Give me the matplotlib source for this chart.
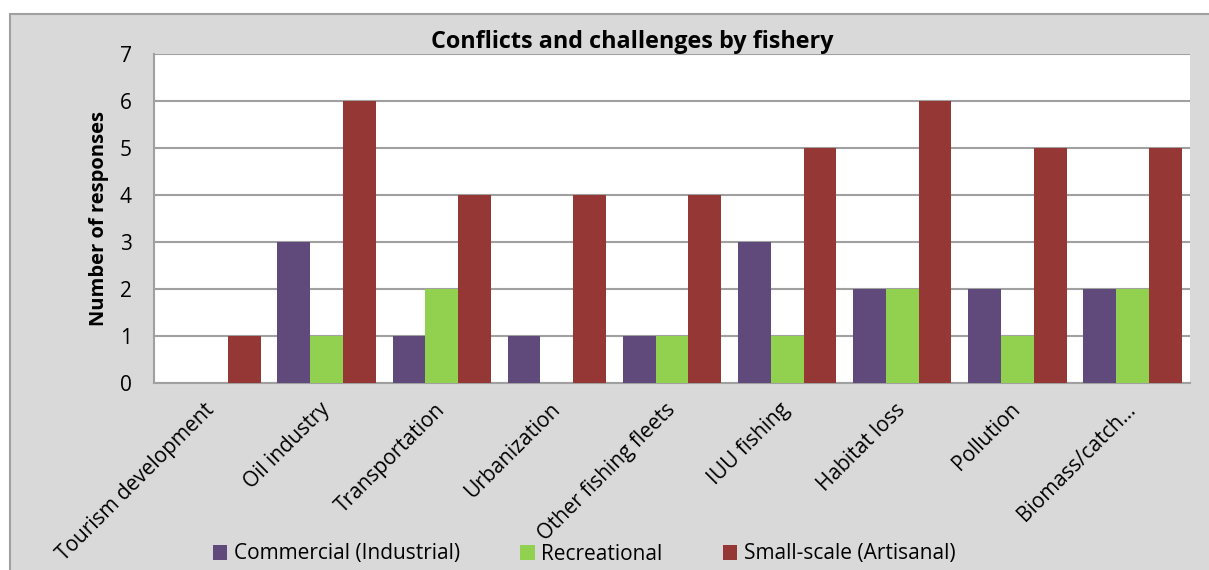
import matplotlib.pyplot as plt
from matplotlib.patches import Rectangle, Patch
import numpy as np

categorias = ['Tourism development', 'Oil industry', 'Transportation', 'Urbanization',
              'Other fishing fleets', 'IUU fishing', 'Habitat loss', 'Pollution',
              'Biomass/catch…']
commercial = [0, 3, 1, 1, 1, 3, 2, 2, 2]
recreational = [0, 1, 2, 0, 1, 1, 2, 1, 2]
small_scale = [1, 6, 4, 4, 4, 5, 6, 5, 5]
series_names = ['Commercial (Industrial)', 'Recreational', 'Small-scale (Artisanal)']
cores = ['#604A7B', '#92D050', '#953735']

plt.rcParams['font.family'] = ['Open Sans', 'DejaVu Sans']

fig = plt.figure(figsize=(12.09, 5.70), dpi=100)
fig.patch.set_facecolor('white')

# fundo cinza do "chart area" estilo Excel
fig.patches.append(Rectangle((10 / 1209, -0.05), 1.2, 1 - 14 / 570 + 0.05,
                             transform=fig.transFigure, facecolor='#D9D9D9',
                             edgecolor='#A0A0A0', linewidth=1.5, zorder=-5))

ax = fig.add_axes([154 / 1209, 1 - 383 / 570, (1190 - 154) / 1209, (383 - 54) / 570])
ax.set_facecolor('white')

x = np.arange(len(categorias))
w = 0.285
for i, (vals, cor, nome) in enumerate(zip([commercial, recreational, small_scale], cores, series_names)):
    ax.bar(x + (i - 1) * w, vals, width=w, color=cor, label=nome, zorder=3)

ax.set_xlim(-0.5, len(categorias) - 0.5)
ax.set_ylim(0, 7)
ax.set_yticks(range(0, 8))
ax.yaxis.grid(True, color='#A0A0A0', linewidth=1.5, zorder=0)
ax.set_axisbelow(True)
for s in ['top', 'right']:
    ax.spines[s].set_visible(False)
for s in ['left', 'bottom']:
    ax.spines[s].set_color('#A0A0A0')
    ax.spines[s].set_linewidth(1.5)
ax.tick_params(axis='y', length=0, pad=16, labelsize=15)
ax.tick_params(axis='x', length=0, pad=17, labelsize=15)
ax.set_xticks(x)
ax.set_xticklabels(categorias, rotation=45, ha='right', va='center', rotation_mode='anchor')

ax.set_ylabel('Number of responses', fontsize=14.5, fontweight='bold', labelpad=8)
fig.text(632 / 1209, 1 - 42 / 570, 'Conflicts and challenges by fishery',
         ha='center', va='center', fontsize=16.8, fontweight='bold')

handles = [Patch(facecolor=c) for c in cores]
fig.legend(handles, series_names, loc='center', bbox_to_anchor=(584 / 1209, 1 - 554 / 570),
           ncol=3, frameon=False, fontsize=15, handlelength=0.7, handleheight=0.7,
           handletextpad=0.3, columnspacing=2.9)

plt.savefig('out.png', dpi=100)
